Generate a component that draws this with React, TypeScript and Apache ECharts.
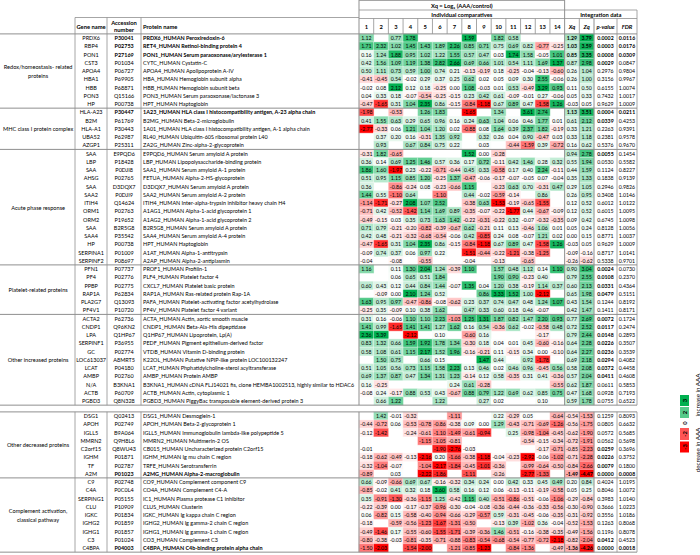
import React, { useEffect, useRef } from "react";
import * as echarts from "echarts";

const _ = null;

// ---------- data ----------
const groupNames = [
  "Redox/homeostasis- related\nproteins",
  "MHC class I protein complex",
  "Acute phase response",
  "Platelet-related proteins",
  "Other increased proteins",
  "Other decreased proteins",
  "Complement activation,\nclassical pathway",
];
const groupSizes = [9, 5, 14, 6, 11, 8, 9];
const blockSizes = [45, 17];

const genes = [
  "PRDX6", "RBP4", "PON1", "CST3", "APOA4", "HBA1", "HBB", "PON3", "HP",
  "HLA-A23", "B2M", "HLA-A1", "UBA52", "AZGP1",
  "SAA", "LBP", "SAA", "AHSG", "SAA", "SAA2", "ITIH4", "ORM1", "ORM2", "SAA", "SAA4", "HP", "SERPINA1", "SERPINF2",
  "PFN1", "PF4", "PPBP", "RAP1A", "PLA2G7", "PF4V1",
  "ACTA2", "CNDP1", "LPA", "SERPINF1", "GC", "LOC613037", "LCAT", "AMBP", "N/A", "ACTB", "PGBD3",
  "DSG1", "APOH", "IGLL5", "MMRN2", "C2orf15", "IGHM", "TF", "A2M",
  "C9", "C4A", "SERPING1", "CLU", "IGKC", "IGHG2", "IGHG1", "C3", "C4BPA",
];
const accessions = [
  "P30041", "P02753", "P27169", "P01034", "P06727", "P69905", "P68871", "Q15166", "P00738",
  "P30447", "P61769", "P30443", "P62987", "P25311",
  "E9PQD6", "P18428", "P0DJI8", "P02765", "D3DQX7", "P0DJI9", "Q14624", "P02763", "P19652", "B2R5G8", "P35542", "P00738", "P01009", "P08697",
  "P07737", "P02776", "P02775", "P62834", "Q13093", "P10720",
  "P62736", "Q96KN2", "Q1HP67", "P36955", "P02774", "A8MRT5", "P04180", "P02760", "B3KNA1", "P60709", "Q8N328",
  "Q02413", "P02749", "B9A064", "Q9H8L6", "Q8WU43", "P01871", "P02787", "P01023",
  "P02748", "P0C0L4", "P05155", "P10909", "P01834", "P01859", "P01857", "P01024", "P04003",
];
const proteins = [
  "PRDX6_HUMAN Peroxiredoxin-6",
  "RET4_HUMAN Retinol-binding protein 4",
  "PON1_HUMAN Serum paraoxonase/arylesterase 1",
  "CYTC_HUMAN Cystatin-C",
  "APOA4_HUMAN Apolipoprotein A-IV",
  "HBA_HUMAN Hemoglobin subunit alpha",
  "HBB_HUMAN Hemoglobin subunit beta",
  "PON3_HUMAN Serum paraoxonase/lactonase 3",
  "HPT_HUMAN Haptoglobin",
  "1A23_HUMAN HLA class I histocompatibility antigen, A-23 alpha chain",
  "B2MG_HUMAN Beta-2-microglobulin",
  "1A01_HUMAN HLA class I histocompatibility antigen, A-1 alpha chain",
  "RL40_HUMAN Ubiquitin-60S ribosomal protein L40",
  "ZA2G_HUMAN Zinc-alpha-2-glycoprotein",
  "E9PQD6_HUMAN Serum amyloid A protein",
  "LBP_HUMAN Lipopolysaccharide-binding protein",
  "SAA1_HUMAN Serum amyloid A-1 protein",
  "FETUA_HUMAN Alpha-2-HS-glycoprotein",
  "D3DQX7_HUMAN Serum amyloid A protein",
  "SAA2_HUMAN Serum amyloid A-2 protein",
  "ITIH4_HUMAN Inter-alpha-trypsin inhibitor heavy chain H4",
  "A1AG1_HUMAN Alpha-1-acid glycoprotein 1",
  "A1AG2_HUMAN Alpha-1-acid glycoprotein 2",
  "B2R5G8_HUMAN Serum amyloid A protein",
  "SAA4_HUMAN Serum amyloid A-4 protein",
  "HPT_HUMAN Haptoglobin",
  "A1AT_HUMAN Alpha-1-antitrypsin",
  "A2AP_HUMAN Alpha-2-antiplasmin",
  "PROF1_HUMAN Profilin-1",
  "PLF4_HUMAN Platelet factor 4",
  "CXCL7_HUMAN Platelet basic protein",
  "RAP1A_HUMAN Ras-related protein Rap-1A",
  "PAFA_HUMAN Platelet-activating factor acetylhydrolase",
  "PF4V_HUMAN Platelet factor 4 variant",
  "ACTA_HUMAN Actin, aortic smooth muscle",
  "CNDP1_HUMAN Beta-Ala-His dipeptidase",
  "Q1HP67_HUMAN Lipoprotein, Lp(A)",
  "PEDF_HUMAN Pigment epithelium-derived factor",
  "VTDB_HUMAN Vitamin D-binding protein",
  "K22OL_HUMAN Putative NPIP-like protein LOC100132247",
  "LCAT_HUMAN Phphatidylcholine-sterol acyltransferase",
  "AMBP_HUMAN Protein AMBP",
  "B3KNA1_HUMAN cDNA FLJ14021 fis, clone HEMBA1002513, highly similar to HDAC6",
  "ACTB_HUMAN Actin, cytoplasmic 1",
  "PGBD3_HUMAN PiggyBac transposable element-derived protein 3",
  "DSG1_HUMAN Desmoglein-1",
  "APOH_HUMAN Beta-2-glycoprotein 1",
  "IGLL5_HUMAN Immunoglobulin lambda-like polypeptide 5",
  "MMRN2_HUMAN Multimerin-2 OS",
  "CB015_HUMAN Uncharacterized protein C2orf15",
  "IGHM_HUMAN Ig mu chain C region",
  "TRFE_HUMAN Serotransferrin",
  "A2MG_HUMAN Alpha-2-macroglobulin",
  "CO9_HUMAN Complement component C9",
  "CO4A_HUMAN Complement C4-A",
  "IC1_HUMAN Plasma protease C1 inhibitor",
  "CLUS_HUMAN Clusterin",
  "IGKC_HUMAN Ig kappa chain C region",
  "IGHG2_HUMAN Ig gamma-2 chain C region",
  "IGHG1_HUMAN Ig gamma-1 chain C region",
  "CO3_HUMAN Complement C3",
  "C4BPA_HUMAN C4b-binding protein alpha chain",
];
const boldRows = [0, 1, 2, 9, 52, 61];

const comparisonLabels = ["1", "2", "3", "4", "5", "6", "7", "8", "9", "10", "11", "12", "13", "14"];

// individual comparatives (14 per row)
const individual: (number | null)[][] = [
  [1.12, _, 0.77, 1.78, _, _, _, 1.59, _, 1.82, 0.58, _, _, _],
  [1.71, 2.32, 1.02, 1.45, 1.43, 1.89, 2.26, 0.85, 0.71, 0.75, 0.69, 0.82, -0.77, -0.25],
  [0.16, 1.24, 1.88, 0.95, 1.02, 1.22, 1.55, 0.57, 0.47, 0.03, 1.74, 1.58, -0.05, 1.01],
  [0.42, 1.56, 1.09, 1.19, 1.38, 2.82, 2.66, 0.69, 0.66, 1.01, 0.54, 1.11, 1.69, 1.37],
  [0.5, 1.11, 0.73, 0.59, 1.0, 0.74, 0.21, -0.13, -0.19, 0.18, -0.25, -0.04, -0.13, -0.6],
  [-0.41, -0.45, 0.54, -0.02, 0.29, 0.37, 0.25, 0.62, 0.02, 0.05, 0.09, 0.3, 2.55, -0.06],
  [-0.02, 0.08, 2.12, 0.12, 0.18, -0.25, 0.0, 1.08, -0.03, 0.01, 0.53, -0.49, 3.29, 0.93],
  [0.04, 0.33, 0.18, -0.07, -0.54, -0.25, -0.15, 0.23, 0.42, 0.61, -0.09, -0.01, 0.27, -0.06],
  [-0.47, -1.65, 0.31, 1.04, 2.35, 0.86, -0.15, -0.84, -1.18, 0.67, 0.89, 0.47, -1.58, 1.26],
  [-1.98, _, -0.53, _, 1.26, 1.83, _, -1.65, _, 1.34, _, 3.61, 2.74, _],
  [0.41, 1.55, 0.63, 0.29, 0.65, 0.96, 0.16, 0.24, 0.63, 1.04, 0.06, 0.46, 1.77, 0.01],
  [-2.77, -0.33, 0.06, 1.21, 1.04, 1.2, 0.02, -0.88, 0.08, 1.64, 0.39, 2.37, 1.82, -0.19],
  [_, 0.37, 0.2, 0.16, -0.31, 1.35, 0.92, _, 0.32, 0.26, 0.04, 0.9, -0.47, 0.03],
  [_, 0.93, _, 0.67, 0.84, 0.75, 0.22, _, 0.03, _, -0.44, -1.59, 0.39, -0.72],
  [-0.31, 1.82, -0.65, _, _, _, _, 1.52, 0.0, -0.28, _, _, _, _],
  [0.36, 0.14, 0.69, 1.25, 1.46, 0.57, 0.36, 0.17, 0.72, -0.11, 0.42, 1.46, 0.28, 0.32],
  [1.86, 1.6, -1.97, 0.23, -0.22, -0.71, -0.44, 0.45, 0.33, -0.58, 0.17, 0.4, 2.24, -0.11],
  [0.51, 0.95, 1.15, 0.85, 1.2, -0.25, 1.37, -0.47, -0.06, -0.17, -0.07, -0.05, 0.07, -0.04],
  [0.36, _, -0.86, -0.24, 0.08, -0.23, -0.66, 1.15, _, -0.23, 0.63, 0.7, -0.31, 0.47],
  [1.44, 0.55, -1.1, 0.64, _, -1.1, _, 0.44, -0.02, -0.59, -0.14, _, 0.86, _],
  [-1.14, -1.71, -0.27, 2.08, 1.07, 2.52, _, -0.38, 0.63, -1.53, -0.19, -0.65, -1.55, _],
  [-0.71, 0.42, -0.52, -1.42, 1.14, 1.69, 0.89, -0.35, -0.07, -0.22, -1.77, 0.44, -0.67, -0.09],
  [-0.49, -0.15, 0.03, 0.35, 0.73, 1.63, 1.42, -0.22, -0.31, -0.22, 0.32, -0.07, -0.32, -0.35],
  [0.71, 0.79, -0.21, -0.2, -0.82, -0.39, -0.67, 0.62, -0.21, 0.11, 0.13, -0.46, 1.06, 0.01],
  [0.42, 0.48, -0.21, -0.32, -0.68, -0.54, -0.06, 0.42, -0.85, 0.24, 0.08, -0.07, 1.21, 0.02],
  [-0.47, -1.65, 0.31, 1.04, 2.35, 0.86, -0.15, -0.84, -1.18, 0.67, 0.89, 0.47, -1.58, 1.26],
  [-0.09, 0.74, 0.37, 0.06, 0.97, 0.22, _, -1.51, -0.44, -0.22, -1.21, -0.38, -1.25, _],
  [-0.04, _, -0.08, _, -0.55, _, _, -0.04, _, -0.13, _, -0.65, _, _],
  [1.16, _, 0.11, 1.3, 2.04, 1.24, -0.39, 1.1, _, 1.57, 0.48, 1.12, 0.14, 1.1],
  [_, _, 0.06, 0.65, 0.51, 1.84, _, _, _, 1.9, 0.9, -0.23, 0.4, _],
  [0.6, 0.43, 0.12, 0.44, 0.84, 1.44, -0.07, 1.35, 0.04, 1.2, 0.38, -0.19, 1.14, 0.37],
  [_, -0.09, 0.0, 2.1, 1.24, 0.52, _, _, 0.86, 3.33, 1.52, 1.0, -2.12, _],
  [1.63, 0.95, 0.97, -0.47, -0.86, -0.08, -0.62, 0.23, 0.37, 0.74, 0.47, 0.48, 1.24, 1.07],
  [-0.25, 0.35, -0.09, 0.1, 0.38, 1.62, _, 0.47, 0.33, 0.6, 0.18, 0.46, -0.07, _],
  [0.31, 0.16, -0.06, 1.1, 1.1, 2.23, -1.03, 1.25, 1.31, 1.87, 0.82, 1.47, 2.2, 0.93],
  [1.41, 0.99, -1.65, 1.41, 1.41, 1.27, 1.62, 0.16, 0.54, -0.36, 0.62, -0.02, -0.58, 0.48],
  [2.36, 3.39, _, -2.12, _, 0.1, _, -0.6, 0.16, _, _, _, -0.17, _],
  [0.83, 1.32, 0.66, 1.59, 1.92, 1.78, 1.34, -0.3, 0.18, 0.04, 0.01, 0.45, -0.6, -0.16],
  [0.58, 1.08, 0.61, 1.15, 2.17, 1.52, 1.96, -0.16, -0.21, 0.11, -0.15, 0.34, 0.0, -0.1],
  [_, 1.5, 0.75, _, 0.66, 0.15, _, _, 1.47, 0.44, _, 0.92, -1.78, _],
  [0.51, 1.05, 0.56, 0.73, 1.15, 1.58, 2.23, 0.13, 0.46, 0.02, 0.46, 0.96, -0.45, 0.56],
  [0.69, 1.37, 0.87, 0.47, 1.34, 1.31, 1.23, -0.14, 0.12, 0.58, -0.35, 0.31, 0.41, -0.36],
  [0.16, -0.25, _, _, _, _, 0.24, 0.61, -0.28, _, _, _, _, -0.55],
  [-0.08, 0.24, -0.17, 0.88, 0.53, 0.43, -0.67, 0.88, 0.79, 1.22, 0.69, 0.62, 0.85, 0.75],
  [_, 0.66, 1.22, _, _, 1.22, _, _, 0.27, 0.02, _, _, 0.1, _],
  [_, 1.42, -0.01, -0.32, _, _, -1.11, _, _, 0.22, -0.29, 0.05, _, -0.64],
  [-0.44, -0.72, 0.06, -0.53, -0.78, -0.86, -0.38, 0.09, 0.0, 1.29, -0.43, -0.71, -0.69, -1.26],
  [-0.12, -1.42, _, -0.24, -0.61, -1.1, -1.49, -0.61, -0.94, _, 0.25, -0.98, -1.04, -0.45],
  [_, _, _, _, -1.15, -1.05, -0.81, _, _, _, _, -0.54, -0.15, -0.34],
  [-0.01, _, _, _, _, -1.9, -2.76, -0.03, _, _, _, _, -0.17, -0.71],
  [-0.18, -0.62, -0.49, -0.13, -2.16, 0.2, -1.66, -0.38, -1.18, -0.04, -0.23, -2.92, -0.06, -1.02],
  [-0.32, -1.04, -0.07, _, -1.04, -2.17, -1.84, -0.45, -1.01, -0.36, _, -0.99, -0.64, -0.5],
  [-0.89, _, 0.03, _, -2.22, -1.86, _, -1.11, _, -0.26, _, -2.77, -1.33, _],
  [0.66, -0.09, -0.66, 0.69, 0.67, -0.16, -0.32, 0.34, 0.24, 0.0, 0.42, 0.33, 0.45, 0.49],
  [-0.85, -0.02, 0.41, 0.32, 0.18, 3.6, 0.58, 0.16, 0.12, 0.06, -0.13, -0.11, -0.19, -0.58],
  [0.35, -0.91, -1.3, -0.36, -1.15, 1.25, -0.42, 1.15, 0.4, -0.51, -0.86, -0.51, -0.06, -1.06],
  [-0.22, -0.39, 0.0, -0.17, -0.37, -0.96, -0.3, -0.04, -0.08, -0.36, -0.44, -0.36, -0.33, -0.56],
  [0.06, -0.82, 0.15, -0.58, -0.4, -0.94, -0.66, -0.29, -0.57, 0.59, -0.31, -0.45, -0.06, -0.35],
  [-0.18, _, -0.59, -0.56, -1.23, -1.67, -1.31, -0.5, _, -0.13, 0.39, -1.02, 0.36, -0.04],
  [-0.49, -1.46, 0.17, -0.55, -0.6, -1.55, -1.71, -0.39, -0.36, 1.46, -0.51, -0.16, -0.38, -0.35],
  [-0.8, -0.38, -0.03, -0.81, -0.35, -0.71, -0.88, -0.83, -0.54, -0.68, -0.54, -0.77, -0.72, -2.18],
  [-1.5, -2.03, _, -1.54, -2.0, _, -1.21, -0.85, -1.23, _, -0.84, -1.36, _, -0.49],
];

const xq = [
  1.29, 1.03, 0.85, 0.87, 0.26, 0.26, 0.11, 0.05, -0.03,
  1.13, 0.61, 0.33, 0.33, 0.16,
  0.94, 0.55, 0.44, 0.35, 0.29, 0.26, 0.12, 0.12, 0.09, 0.05, 0.0, -0.03, -0.09, -0.26,
  0.9, 0.79, 0.6, 0.65, 0.43, 0.42,
  0.77, 0.72, 0.79, 0.64, 0.64, 0.69, 0.58, 0.57, 0.62, 0.47, 0.59,
  -0.54, -0.56, -0.62, -0.72, -0.85, -0.71, -0.84, -1.49,
  0.2, 0.05, -0.29, -0.3, -0.31, -0.52, -0.49, -0.82, -1.36,
];
const zq = [
  3.79, 3.59, 3.35, 2.98, 1.04, 1.0, 0.5, 0.33, 0.05,
  3.51, 2.12, 1.21, 1.18, 0.62,
  2.78, 1.94, 1.59, 1.33, 1.05, 0.95, 0.52, 0.52, 0.42, 0.24, 0.15, 0.05, -0.16, -0.62,
  3.04, 2.55, 2.13, 1.98, 1.54, 1.47,
  2.69, 2.52, 2.44, 2.28, 2.27, 2.18, 2.08, 2.04, 1.87, 1.68, 1.78,
  -1.53, -1.75, -1.9, -1.91, -2.23, -2.28, -2.66, -4.47,
  0.84, 0.25, -0.84, -0.9, -0.92, -1.53, -1.56, -2.04, -4.26,
];
const pValues = [
  0.0002, 0.0003, 0.0008, 0.0029, 0.2976, 0.3156, 0.6155, 0.7432, 0.9629,
  0.0004, 0.0339, 0.2263, 0.2381, 0.5376,
  0.0055, 0.053, 0.1124, 0.1838, 0.2946, 0.3408, 0.6012, 0.6015, 0.6745, 0.8128, 0.8771, 0.9629, 0.8717, 0.5338,
  0.0024, 0.0108, 0.0331, 0.0479, 0.1244, 0.1411,
  0.0072, 0.0117, 0.0148, 0.0226, 0.0236, 0.0294, 0.0372, 0.0411, 0.0611, 0.0928, 0.0755,
  0.1259, 0.0805, 0.0572, 0.0562, 0.0259, 0.0226, 0.0079, 0.0,
  0.4024, 0.8046, 0.3983, 0.3666, 0.3556, 0.1263, 0.1196, 0.0412, 0.0,
];
const fdrValues = [
  0.0116, 0.0176, 0.0309, 0.0847, 0.9804, 0.9967, 1.0074, 1.0017, 1.0009,
  0.0211, 0.4253, 0.9391, 0.9578, 0.967,
  0.1454, 0.5582, 0.8227, 0.9139, 0.9826, 1.0146, 1.0122, 1.0095, 1.0098, 1.0056, 1.0037, 1.0009, 1.0141, 0.9701,
  0.073, 0.237, 0.4364, 0.5151, 0.8192, 0.8171,
  0.1724, 0.2474, 0.2893, 0.3507, 0.3539, 0.4082, 0.4458, 0.4608, 0.5853, 0.7193, 0.6522,
  0.8093, 0.6632, 0.5685, 0.5698, 0.3696, 0.3752, 0.18, 0.0008,
  1.0195, 1.0072, 1.014, 1.0223, 1.0186, 0.8068, 0.8078, 0.4523, 0.0018,
];

const legendSteps = [3, 2, 0, -2, -3];

// ---------- styling / layout ----------
const FONT = "Lato, 'Open Sans', sans-serif";
const LINE = "#8f8f8f";
const RED = "#ff0000";
const GREEN = "#00b050";
const ROW_H = 8.25;
const BLOCK_TOP = [33.9, 411.9];
const MAIN_L = 359;
const MAIN_W = 235;
const P_L = 594;
const P_W = 23;
const F_L = 617;
const F_W = 20;
const END_X = 637;
const NAME_FS = 5.45;
const BOLD_FS = 5.45;
const NUM_FS = 5.2;

function buildOption() {
  const mainRows = individual.map((r, i) => [...r, xq[i], zq[i]]);
  const nCols = 16;
  // per-column scale extents (Xq & Zq share one scale)
  const ext: { pos: number; neg: number }[] = [];
  for (let c = 0; c < nCols; c++) {
    const cols = c >= 14 ? [14, 15] : [c];
    let pos = 0, neg = 0;
    mainRows.forEach((r) => cols.forEach((cc) => {
      const v = r[cc];
      if (v == null) return;
      if (v > pos) pos = v;
      if (v < neg) neg = v;
    }));
    ext.push({ pos, neg });
  }
  const isBold = (i: number) => boldRows.indexOf(i) >= 0;

  const starts = [0, blockSizes[0]];
  const grids: any[] = [];
  const xAxes: any[] = [];
  const yAxes: any[] = [];
  const series: any[] = [];
  const colourSeries: number[] = [];
  const textSeries: number[] = [];
  const colHeaders = [...comparisonLabels, "Xq", "Zq"];

  // group label positions
  const groupLabelOdd: Record<number, string> = {};
  const groupLabelEven: Record<number, string> = {};
  let acc = 0;
  groupSizes.forEach((s, g) => {
    const idx = acc + Math.floor((s - 1) / 2);
    if (s % 2 === 1) groupLabelOdd[idx] = groupNames[g];
    else groupLabelEven[idx] = groupNames[g];
    acc += s;
  });

  blockSizes.forEach((count, b) => {
    const top = BLOCK_TOP[b];
    const h = count * ROW_H;
    const start = starts[b];
    const gi = grids.length;
    grids.push({ left: MAIN_L, top, width: MAIN_W, height: h });
    grids.push({ left: P_L, top, width: P_W, height: h });
    grids.push({ left: F_L, top, width: F_W, height: h });
    const rowIdx = Array.from({ length: count }, (_, k) => String(start + k));

    const headerLabel = (show: boolean) => ({
      show,
      interval: 0,
      margin: 7.6,
      verticalAlign: "middle",
      fontFamily: FONT,
      fontSize: 5.8,
      fontWeight: "bold",
      color: "#000",
      rich: { i: { fontStyle: "italic", fontWeight: "bold", fontFamily: FONT, fontSize: 5.8, color: "#000" } },
    });
    const xBase = { type: "category", position: "top", axisLine: { show: false }, axisTick: { show: false }, splitLine: { show: false } };
    xAxes.push({ ...xBase, gridIndex: gi, data: colHeaders, axisLabel: { ...headerLabel(b === 0), formatter: (v: string) => (v === "Xq" || v === "Zq" ? `{i|${v}}` : v) } });
    xAxes.push({ ...xBase, gridIndex: gi + 1, data: ["p-value"], axisLabel: { ...headerLabel(b === 0), formatter: (v: string) => `{i|${v}}` } });
    xAxes.push({ ...xBase, gridIndex: gi + 2, data: ["FDR"], axisLabel: { ...headerLabel(b === 0), formatter: (v: string) => `{i|${v}}` } });

    const yHidden = { type: "category", inverse: true, data: rowIdx, show: false };
    const yi = yAxes.length;
    yAxes.push({ ...yHidden, gridIndex: gi });
    yAxes.push({ ...yHidden, gridIndex: gi + 1 });
    yAxes.push({ ...yHidden, gridIndex: gi + 2 });

    const textAxis = (margin: number, align: string, fmt: (v: string, i: number) => string, extra: any = {}) => ({
      type: "category",
      gridIndex: gi,
      inverse: true,
      position: "left",
      data: rowIdx,
      axisLine: { show: false },
      axisTick: { show: false },
      splitLine: { show: false },
      axisLabel: {
        interval: 0,
        margin,
        align,
        verticalAlign: "middle",
        fontFamily: FONT,
        fontSize: NAME_FS,
        color: "#000",
        formatter: fmt,
        rich: { b: { fontWeight: "bold", fontFamily: FONT, fontSize: BOLD_FS, color: "#000" } },
        ...extra,
      },
    });
    const r = (i: number) => start + i;
    yAxes.push(textAxis(MAIN_L - 91, "center", (_v, i) => genes[r(i)], { fontSize: 5.5 }));
    yAxes.push(textAxis(MAIN_L - 124, "center", (_v, i) => (isBold(r(i)) ? `{b|${accessions[r(i)]}}` : accessions[r(i)]), { fontSize: 5.5 }));
    yAxes.push(textAxis(MAIN_L - 143, "left", (_v, i) => (isBold(r(i)) ? `{b|${proteins[r(i)]}}` : proteins[r(i)])));
    yAxes.push(textAxis(MAIN_L - 38, "center", (_v, i) => groupLabelOdd[r(i)] || "", { lineHeight: 8.5, fontSize: 5.6 }));
    yAxes.push(textAxis(MAIN_L - 38, "center", (_v, i) => groupLabelEven[r(i)] || "", { lineHeight: 8.5, fontSize: 5.6, padding: [ROW_H, 0, 0, 0] }));

    // heatmap cells
    const cells: any[] = [];
    for (let k = 0; k < count; k++) {
      const row = start + k;
      for (let c = 0; c < nCols; c++) {
        const v = mainRows[row][c];
        if (v == null) continue;
        const e = ext[c];
        const norm = v >= 0 ? (e.pos ? v / e.pos : 0) : e.neg ? -v / e.neg : 0;
        const item: any = { value: [c, k, v, norm] };
        if (c >= 14 && isBold(row)) item.label = { fontWeight: "bold" };
        cells.push(item);
      }
    }
    colourSeries.push(series.length);
    series.push({
      type: "heatmap",
      xAxisIndex: gi,
      yAxisIndex: yi,
      data: cells,
      itemStyle: { borderColor: "#ffffff", borderWidth: 0.4 },
      label: { show: true, fontFamily: FONT, fontSize: NUM_FS, color: "#000", formatter: (p: any) => p.value[2].toFixed(2) },
      emphasis: { disabled: true },
    });
    const pCells = [];
    const fCells = [];
    for (let k = 0; k < count; k++) {
      const row = start + k;
      const pv = pValues[row];
      pCells.push({ value: [0, k, pv], label: pv < 0.05 ? { fontWeight: "bold" } : undefined });
      const fv = fdrValues[row];
      fCells.push({ value: [0, k, fv], label: fv < 0.05 ? { fontWeight: "bold" } : undefined });
    }
    const txtSeries = (xi: number, yIdx: number, data: any[]) => ({
      type: "heatmap",
      xAxisIndex: xi,
      yAxisIndex: yIdx,
      data,
      label: { show: true, fontFamily: FONT, fontSize: NUM_FS, color: "#000", formatter: (p: any) => p.value[2].toFixed(4) },
      emphasis: { disabled: true },
    });
    textSeries.push(series.length);
    series.push(txtSeries(gi + 1, yi + 1, pCells));
    textSeries.push(series.length);
    series.push(txtSeries(gi + 2, yi + 2, fCells));
  });

  // ---------- table rules ----------
  const L = (x1: number, y1: number, x2: number, y2: number, w = 0.8) => ({
    type: "line",
    silent: true,
    z: 100,
    shape: { x1, y1, x2, y2 },
    style: { stroke: LINE, lineWidth: w },
  });
  const colW = MAIN_W / 16;
  const xqL = MAIN_L + 14 * colW;
  const zqL = MAIN_L + 15 * colW;
  const g: any[] = [];
  const bTop = BLOCK_TOP;
  const bBot = [BLOCK_TOP[0] + blockSizes[0] * ROW_H, BLOCK_TOP[1] + blockSizes[1] * ROW_H];
  // horizontals
  g.push(L(MAIN_L, 0.5, xqL, 0.5));
  g.push(L(MAIN_L, 10, END_X, 10));
  g.push(L(MAIN_L, 18.5, END_X, 18.5));
  g.push(L(75, 17.5, MAIN_L, 17.5));
  [0, 1].forEach((b) => {
    g.push(L(0, bTop[b], END_X, bTop[b], 1));
    g.push(L(0, bBot[b], END_X, bBot[b], 1));
  });
  let cum = 0;
  groupSizes.forEach((s) => {
    cum += s;
    if (cum === blockSizes[0] || cum === blockSizes[0] + blockSizes[1]) return;
    const b = cum < blockSizes[0] ? 0 : 1;
    const y = bTop[b] + (cum - (b ? blockSizes[0] : 0)) * ROW_H;
    g.push(L(0, y, END_X, y, 1));
  });
  // verticals
  [0, 1].forEach((b) => {
    const y0 = b === 0 ? 17.5 : bTop[1];
    [75, 107, 141].forEach((x) => g.push(L(x, y0, x, bBot[b])));
    g.push(L(MAIN_L, b === 0 ? 0 : bTop[1], MAIN_L, bBot[b], 1));
    g.push(L(xqL, b === 0 ? 0 : bTop[1], xqL, bBot[b], 1));
    g.push(L(zqL, b === 0 ? 18.5 : bTop[1], zqL, bBot[b]));
    g.push(L(P_L, b === 0 ? 18.5 : bTop[1], P_L, bBot[b], 1));
    g.push(L(F_L, b === 0 ? 18.5 : bTop[1], F_L, bBot[b]));
    g.push(L(END_X, b === 0 ? 10 : bTop[1], END_X, bBot[b]));
  });
  for (let k = 1; k < 14; k++) {
    const x = MAIN_L + k * colW;
    g.push(L(x, 18.5, x, bTop[0]));
  }

  // ---------- header texts ----------
  const T = (text: string, x: number, y: number, extra: any = {}, rot = 0) => ({
    type: "text",
    silent: true,
    z: 100,
    x,
    y,
    rotation: rot,
    style: {
      text,
      fontFamily: FONT,
      fontSize: 5.8,
      fontWeight: "bold",
      fill: "#000",
      align: "center",
      verticalAlign: "middle",
      ...extra,
    },
  });
  g.push(T("Gene name", 91, 26));
  g.push(T("Accession\nnumber", 124, 26.3, { lineHeight: 7.4 }));
  g.push(T("Protein name", 143, 26, { align: "left" }));
  g.push(T("Xq = Log\u2082 (AAA/control)", (MAIN_L + xqL) / 2, 5.2));
  g.push(T("Individual comparatives", (MAIN_L + xqL) / 2, 14.3));
  g.push(T("Integration data", (xqL + END_X) / 2, 14.3));

  // ---------- colour legend ----------
  const legendColor = (v: number) => {
    const t = Math.abs(v) / 3;
    const base = v >= 0 ? [0, 176, 80] : [255, 0, 0];
    const c = base.map((ch) => Math.round(255 + (ch - 255) * t));
    return `rgb(${c[0]},${c[1]},${c[2]})`;
  };
  const boxes = [
    { y: 395, h: 11 },
    { y: 407, h: 11 },
    { y: 419.5, h: 7 },
    { y: 428, h: 12 },
    { y: 441.5, h: 11 },
  ];
  legendSteps.forEach((v, i) => {
    const bx = boxes[i];
    if (v !== 0) {
      g.push({ type: "rect", silent: true, z: 99, shape: { x: 680, y: bx.y, width: 9, height: bx.h }, style: { fill: legendColor(v) } });
    }
    g.push(T(String(v), 684.5, bx.y + bx.h / 2, { fontSize: 5.8 }, Math.PI / 2));
  });
  g.push(T("increase in AAA", 697, 395, { fontWeight: "normal", fontSize: 6.2 }, Math.PI / 2));
  g.push(T("decrease in AAA", 697, 450, { fontWeight: "normal", fontSize: 6.2 }, Math.PI / 2));

  return {
    animation: false,
    backgroundColor: "#ffffff",
    grid: grids,
    xAxis: xAxes,
    yAxis: yAxes,
    visualMap: [
      {
        type: "continuous",
        show: false,
        dimension: 3,
        min: -1,
        max: 1,
        seriesIndex: colourSeries,
        inRange: { color: [RED, "#ffffff", GREEN] },
      },
      {
        type: "continuous",
        show: false,
        dimension: 2,
        min: 0,
        max: 2,
        seriesIndex: textSeries,
        inRange: { color: ["rgba(255,255,255,0)", "rgba(255,255,255,0)"] },
      },
    ],
    series,
    graphic: g,
  };
}

export default function App() {
  const ref = useRef<HTMLDivElement>(null);
  useEffect(() => {
    if (!ref.current) return;
    const chart = echarts.init(ref.current, null, { renderer: "svg", width: 700, height: 555 });
    chart.setOption(buildOption() as any);
    return () => chart.dispose();
  }, []);
  return (
    <div
      ref={ref}
      style={{ position: "absolute", left: 0, top: 0, width: 700, height: 555, background: "#fff" }}
    />
  );
}
